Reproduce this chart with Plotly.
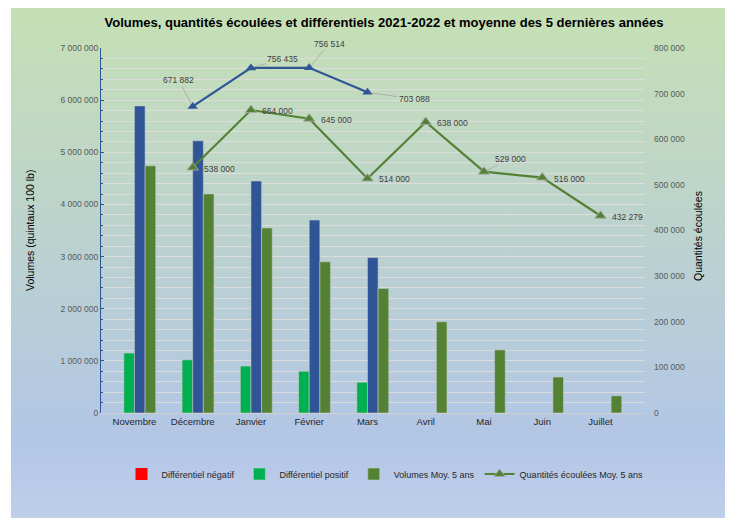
import base64
import plotly.graph_objects as go

months = ["Novembre", "Décembre", "Janvier", "Février", "Mars", "Avril", "Mai", "Juin", "Juillet"]
diff_neg = [0, 0, 0, 0, 0, 0, 0, 0, 0]
diff_pos = [1150000, 1020000, 900000, 800000, 590000, None, None, None, None]
vol_2122 = [5890000, 5220000, 4450000, 3700000, 2980000, None, None, None, None]
vol_moy5 = [4740000, 4200000, 3550000, 2900000, 2390000, 1750000, 1210000, 690000, 330000]
qte_2122 = [None, 671882, 756435, 756514, 703088, None, None, None, None]
qte_moy5 = [None, 538000, 664000, 645000, 514000, 638000, 529000, 516000, 432279]

FONT = "Liberation Sans, Arial, sans-serif"
BLUE = "#2f5597"
DKGREEN = "#548235"
GREEN = "#00b050"
RED = "#ff0000"
BAR_EDGE = "rgba(200,205,200,0.7)"

fig = go.Figure()
fig.add_trace(go.Bar(x=months, y=diff_neg, name="Différentiel négatif", marker=dict(color=RED, line=dict(width=0))))
fig.add_trace(go.Bar(x=months, y=diff_pos, name="Différentiel positif", marker=dict(color=GREEN, line=dict(color=BAR_EDGE, width=0.8))))
fig.add_trace(go.Bar(x=months, y=vol_2122, name="Volumes 2021-2022", showlegend=False, marker=dict(color=BLUE, line=dict(color=BAR_EDGE, width=0.8))))
fig.add_trace(go.Bar(x=months, y=vol_moy5, name="Volumes Moy. 5 ans", marker=dict(color=DKGREEN, line=dict(color=BAR_EDGE, width=0.8))))
fig.add_trace(go.Scatter(x=months, y=qte_2122, yaxis="y2", mode="lines+markers", name="Quantités écoulées 2021-2022", showlegend=False,
                         line=dict(color=BLUE, width=2.2), marker=dict(symbol="triangle-up", size=9, color=BLUE)))
fig.add_trace(go.Scatter(x=months, y=qte_moy5, yaxis="y2", mode="lines+markers", name="Quantités écoulées Moy. 5 ans",
                         line=dict(color=DKGREEN, width=2.2),
                         marker=dict(symbol="triangle-up", size=10, color=DKGREEN, line=dict(color="rgba(170,170,170,0.9)", width=1))))

def fmt(v):
    return f"{v:,}".replace(",", " ")

LBL = dict(family=FONT, size=8.5, color="#404040")
ann = []
# blue series labels (with leader lines)
blue_off = {1: (-14, -26), 2: (32, -9), 3: (20, -24), 4: (47, 7)}
for i, (ax, ay) in blue_off.items():
    ann.append(dict(x=months[i], y=qte_2122[i], yref="y2", xref="x", text=fmt(qte_2122[i]), font=LBL,
                    showarrow=True, arrowhead=0, arrowwidth=0.8, arrowcolor="#a6a6a6", ax=ax, ay=ay, standoff=3))
# green series labels
for i in range(1, 9):
    v = qte_moy5[i]
    if i == 6:
        ann.append(dict(x=months[i], y=v, yref="y2", xref="x", text=fmt(v), font=LBL,
                        showarrow=True, arrowhead=0, arrowwidth=0.8, arrowcolor="#a6a6a6", ax=27, ay=-13, standoff=3))
    else:
        ann.append(dict(x=months[i], y=v, yref="y2", xref="x", text=fmt(v), font=LBL,
                        showarrow=False, xshift=27, yshift=-1))

# figure geometry (page is offset by 8px body margin)
W, H = 725, 510
L, R, T, B = 93, 637, 40, 405
pw, ph = R - L, B - T

# axis titles
ann.append(dict(x=(22 - L) / pw, y=(B - 223) / ph, xref="paper", yref="paper", text="Volumes (quintaux 100 lb)", textangle=-90,
                xanchor="center", yanchor="middle",
                showarrow=False, font=dict(family=FONT, size=10.5, color="#000000")))
ann.append(dict(x=(690 - L) / pw, y=(B - 228) / ph, xref="paper", yref="paper", text="Quantités écoulées", textangle=-90,
                xanchor="center", yanchor="middle",
                showarrow=False, font=dict(family=FONT, size=10.5, color="#000000")))

svg = ('<svg xmlns="http://www.w3.org/2000/svg" width="716" height="513" viewBox="0 0 716 513" preserveAspectRatio="none">'
       '<defs><linearGradient id="g" x1="0" y1="0" x2="0" y2="1">'
       '<stop offset="0" stop-color="#c6e0b4"/><stop offset="0.85" stop-color="#b2c6e6"/>'
       '<stop offset="1" stop-color="#bfcfea"/></linearGradient></defs>'
       '<rect x="0" y="0" width="716" height="513" fill="url(#g)"/></svg>')
src = "data:image/svg+xml;base64," + base64.b64encode(svg.encode()).decode()

fig.update_layout(
    width=W, height=H,
    margin=dict(l=L, r=W - R, t=T, b=H - B, pad=0),
    paper_bgcolor="white", plot_bgcolor="rgba(0,0,0,0)",
    separators=", ",
    barmode="group", bargap=0.27, bargroupgap=0,
    title=dict(text="<b>Volumes, quantités écoulées et différentiels 2021-2022 et moyenne des 5 dernières années</b>",
               x=376 / W, xanchor="center", y=1 - 14 / H, yanchor="middle",
               font=dict(family=FONT, size=13, color="#000000")),
    images=[dict(source=src, xref="paper", yref="paper", x=(3 - L) / pw, y=(B + 3) / ph,
                 sizex=716 / pw, sizey=513 / ph, xanchor="left", yanchor="top", sizing="stretch", layer="below")],
    xaxis=dict(showline=True, linecolor="#d0d0d0", linewidth=1, ticks="", showgrid=False,
               tickfont=dict(family=FONT, size=9.5, color="#262626")),
    yaxis=dict(range=[0, 7000000], dtick=1000000, tickformat=",d", showgrid=True, gridcolor="#dcdcdc", gridwidth=1,
               showline=True, linecolor=BLUE, linewidth=1, ticks="inside", ticklen=3, tickcolor=BLUE,
               minor=dict(dtick=200000, showgrid=True, gridcolor="#dcdcdc", gridwidth=1, ticks="inside", ticklen=2, tickcolor=BLUE),
               zeroline=False, tickfont=dict(family=FONT, size=8.5, color="#595959")),
    yaxis2=dict(range=[0, 800000], dtick=100000, tickformat=",d", overlaying="y", side="right", showgrid=False,
                showline=False, ticks="", zeroline=False, ticklabelstandoff=8,
                tickfont=dict(family=FONT, size=8.5, color="#595959")),
    legend=dict(orientation="h", x=(377 - L) / pw, xanchor="center", y=(B - 466) / ph, yanchor="middle",
                bgcolor="rgba(0,0,0,0)", font=dict(family=FONT, size=9, color="#262626"), traceorder="normal"),
    annotations=ann,
)

fig.write_html("out.html")
